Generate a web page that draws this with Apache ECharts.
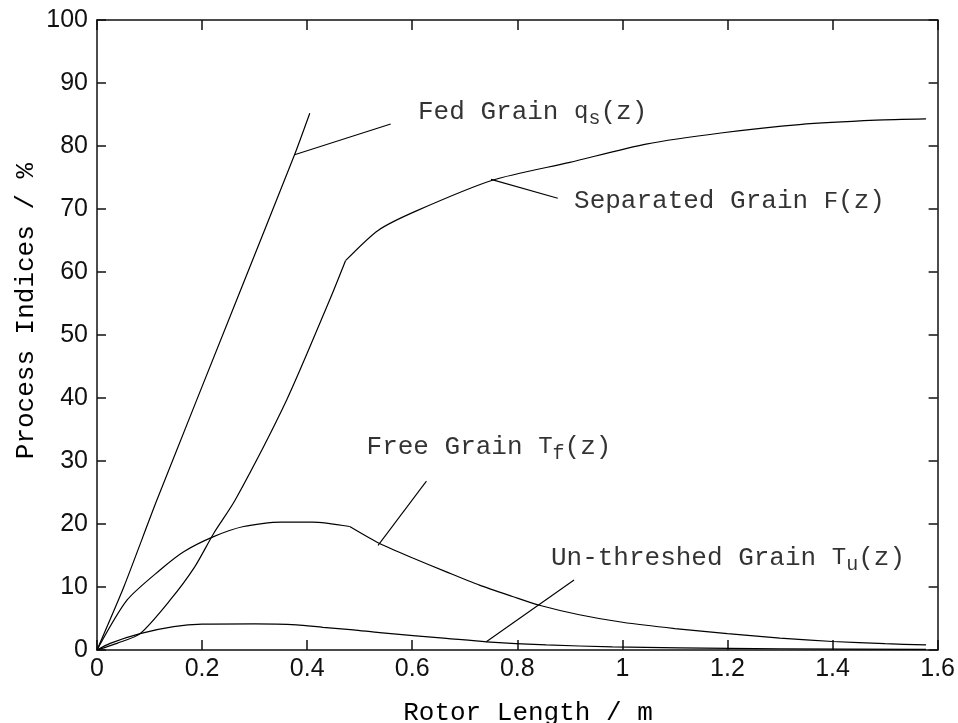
<!DOCTYPE html>
<html><head><meta charset="utf-8">
<script src="https://cdn.jsdelivr.net/npm/echarts@6/dist/echarts.min.js"></script>
<style>html,body{margin:0;padding:0;background:#fff}#c{width:958px;height:723px}</style>
</head><body><div id="c"></div>
<script>
// ---- data ----
const xMin = 0, xMax = 1.6, xStep = 0.2;
const yMin = 0, yMax = 100, yStep = 10;
const xTitle = 'Rotor Length / m';
const yTitle = 'Process Indices / %';

// Fed grain q_s(z)
const fedX = [0, 0.051, 0.114, 0.266, 0.376, 0.405];
const fedY = [0, 10.0, 23.8, 55.6, 78.6, 85.2];

// Separated grain F(z)  (slope break at sepKinkX)
const sepX = [0, 0.038, 0.082, 0.139, 0.186, 0.222, 0.263, 0.361, 0.443, 0.473, 0.535, 0.608, 0.754, 0.900, 1.045, 1.191, 1.337, 1.483, 1.578];
const sepY = [0, 1.06, 2.6, 7.9, 13.2, 18.5, 23.8, 39.7, 55.6, 61.8, 66.6, 69.7, 74.6, 77.4, 80.3, 82.1, 83.4, 84.1, 84.3];
const sepKinkX = 0.473;

// Free grain T_f(z)  (slope break at freeKinkX)
const freeX = [0, 0.057, 0.120, 0.165, 0.222, 0.279, 0.35, 0.41, 0.481, 0.538, 0.601, 0.665, 0.728, 0.791, 0.842, 0.918, 1.0, 1.1, 1.2, 1.3, 1.4, 1.5, 1.578];
const freeY = [0, 7.9, 12.7, 15.6, 18.0, 19.6, 20.3, 20.3, 19.6, 16.9, 14.6, 12.4, 10.3, 8.5, 7.1, 5.6, 4.4, 3.4, 2.6, 1.9, 1.35, 1.0, 0.8];
const freeKinkX = 0.481;

// Un-threshed grain T_u(z)
const unX = [0, 0.025, 0.082, 0.146, 0.2, 0.3, 0.38, 0.43, 0.488, 0.538, 0.665, 0.741, 0.855, 0.981, 1.108, 1.3, 1.578];
const unY = [0, 1.06, 2.6, 3.7, 4.1, 4.15, 4.0, 3.6, 3.2, 2.75, 1.85, 1.3, 0.8, 0.5, 0.35, 0.2, 0.1];

// annotation pointer segments [x0, y0, x1, y1]
const pointerFed  = [0.376, 78.6, 0.559, 83.5];
const pointerSep  = [0.750, 74.7, 0.877, 71.7];
const pointerFree = [0.535, 16.6, 0.627, 26.8];
const pointerUn   = [0.741, 1.3, 0.908, 11.1];

// annotation text anchors (left edge, vertical middle) and texts
const labelX = [0.611, 0.908, 0.513, 0.864];
const labelY = [85.4, 71.2, 32.2, 14.6];
const labelText = [
  '{a|Fed Grain }{v|q}{s|s}{a|(z)}',
  '{a|Separated Grain }{v|F}{a|(z)}',
  '{a|Free Grain }{v|T}{s|f}{a|(z)}',
  '{a|Un-threshed Grain }{v|T}{s|u}{a|(z)}'
];

// ---- build ----
const zip = (xs, ys) => xs.map((x, i) => [x, ys[i]]);
const seg = s => [[s[0], s[1]], [s[2], s[3]]];
const before = (d, k) => d.filter(p => p[0] <= k);
const after = (d, k) => d.filter(p => p[0] >= k);

const MONO = "'Liberation Mono', 'DejaVu Sans Mono', monospace";
const SANS = "'Liberation Sans', Arial, sans-serif";
const axisCol = '#111';

function lineSeries(name, data, w, smooth) {
  return {
    name, type: 'line', data, showSymbol: false, symbol: 'none',
    smooth: smooth || false,
    lineStyle: { color: '#000', width: w || 1.2 }, silent: true, z: 3
  };
}

const baseX = {
  type: 'value', min: xMin, max: xMax, interval: xStep,
  axisLine: { show: true, onZero: false, lineStyle: { color: axisCol, width: 1.5 } },
  axisTick: { show: true, inside: true, length: 10, lineStyle: { color: axisCol, width: 1.5 } },
  splitLine: { show: false }
};
const baseY = {
  type: 'value', min: yMin, max: yMax, interval: yStep,
  axisLine: { show: true, onZero: false, lineStyle: { color: axisCol, width: 1.5 } },
  axisTick: { show: true, inside: true, length: 9, lineStyle: { color: axisCol, width: 1.5 } },
  splitLine: { show: false }
};

const sepData = zip(sepX, sepY);
const freeData = zip(freeX, freeY);

const chart = echarts.init(document.getElementById('c'), null, { renderer: 'canvas' });
chart.setOption({
  animation: false,
  backgroundColor: '#fff',
  grid: { left: 97, right: 19, top: 20, bottom: 73, containLabel: false },
  xAxis: [
    Object.assign({}, baseX, {
      position: 'bottom',
      axisLabel: { show: true, margin: 7, color: '#111', fontFamily: SANS, fontSize: 25,
        formatter: v => String(Math.round(v * 10) / 10) }
    }),
    Object.assign({}, baseX, { position: 'top', axisLabel: { show: false } })
  ],
  yAxis: [
    Object.assign({}, baseY, {
      position: 'left',
      axisLabel: { show: true, margin: 9, color: '#111', fontFamily: SANS, fontSize: 25 }
    }),
    Object.assign({}, baseY, { position: 'right', axisLabel: { show: false } })
  ],
  series: [
    lineSeries('Fed Grain', zip(fedX, fedY), 1.2, 0.2),
    lineSeries('Separated Grain', before(sepData, sepKinkX), 1.2, 0.25),
    lineSeries('Separated Grain (after break)', after(sepData, sepKinkX), 1.2, 0.25),
    lineSeries('Free Grain', before(freeData, freeKinkX), 1.2, 0.25),
    lineSeries('Free Grain (after break)', after(freeData, freeKinkX), 1.2, 0.25),
    lineSeries('Un-threshed Grain', zip(unX, unY), 1.2, 0.25),
    lineSeries('pFed', seg(pointerFed), 1.1),
    lineSeries('pSep', seg(pointerSep), 1.1),
    lineSeries('pFree', seg(pointerFree), 1.1),
    lineSeries('pUn', seg(pointerUn), 1.1),
    {
      name: 'labels', type: 'scatter', symbolSize: 0, silent: true, z: 5,
      data: labelX.map((x, i) => ({
        value: [x, labelY[i]],
        label: {
          show: true, position: 'right', distance: 0,
          formatter: labelText[i],
          rich: {
            a: { fontFamily: MONO, fontSize: 26, color: '#000', lineHeight: 34 },
            v: { fontFamily: MONO, fontSize: 24, color: '#000', lineHeight: 34 },
            s: { fontFamily: MONO, fontSize: 20, color: '#000', lineHeight: 34, verticalAlign: 'bottom', padding: [12, 0, 0, 0] }
          }
        }
      }))
    }
  ],
  graphic: [
    { type: 'text', x: 528, y: 713, style: { text: xTitle, font: "26px " + MONO, fill: '#000', align: 'center', verticalAlign: 'middle' } },
    { type: 'text', x: 26, y: 311, rotation: Math.PI / 2, style: { text: yTitle, font: "26px " + MONO, fill: '#000', align: 'center', verticalAlign: 'middle' } }
  ]
});
</script>
</body></html>
